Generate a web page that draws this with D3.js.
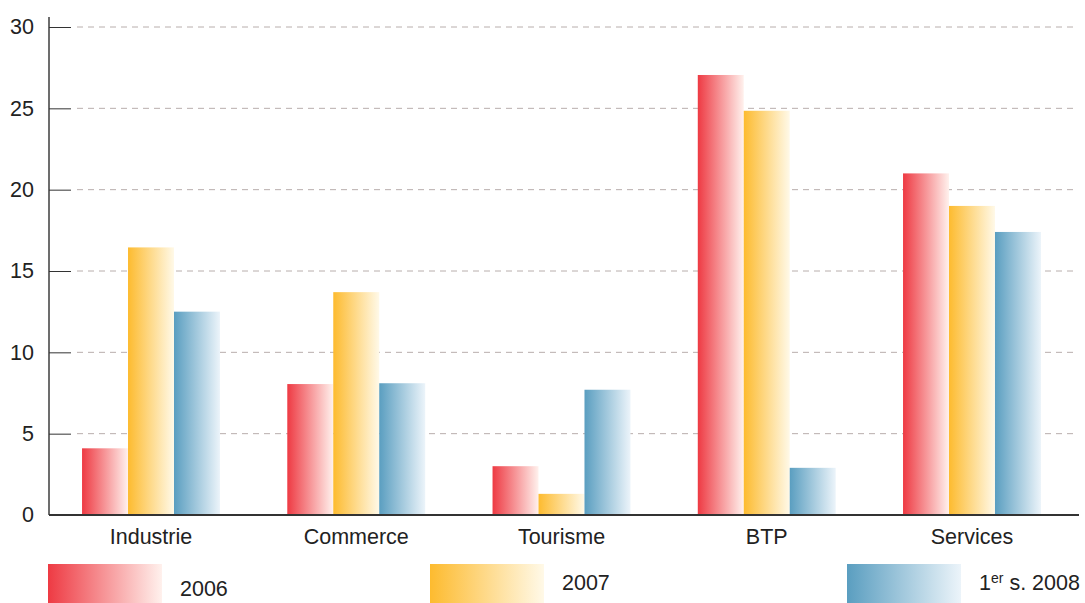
<!DOCTYPE html>
<html>
<head>
<meta charset="utf-8">
<script src="https://cdn.jsdelivr.net/npm/d3@7"></script>
<style>
  body { margin: 0; background: #fff; }
  svg { display: block; font-family: "Liberation Sans", Arial, sans-serif; }
</style>
</head>
<body>
<svg id="chart" width="1085" height="603"></svg>
<script>
// data
const categories = ["Industrie", "Commerce", "Tourisme", "BTP", "Services"];
const seriesNames = ["2006", "2007", "1er s. 2008"];
const values2006 = [4.1, 8.05, 3.0, 27.05, 21.0];
const values2007 = [16.45, 13.7, 1.3, 24.85, 19.0];
const values2008 = [12.5, 8.1, 7.7, 2.9, 17.4];
const yTicks = [0, 5, 10, 15, 20, 25, 30];

const seriesValues = [values2006, values2007, values2008];
const gradStops = [
  ["#ee3a43", "#fff1ed"],
  ["#fdbb2f", "#fff9e8"],
  ["#5a9ec0", "#ecf4fa"]
];

const svg = d3.select("#chart");
const margin = {left: 49, right: 11, top: 27, bottom: 88};
const W = 1085, H = 603;
const fontSize = 21.5;

const x = d3.scaleBand().domain(categories).range([margin.left, W - margin.right]).paddingInner(0.328).paddingOuter(0.161);
const xs = d3.scaleBand().domain(d3.range(seriesNames.length)).range([0, x.bandwidth()]);
const y = d3.scaleLinear().domain([0, 30]).range([H - margin.bottom, margin.top]);

// gradients
const defs = svg.append("defs");
gradStops.forEach((c, i) => {
  const g = defs.append("linearGradient").attr("id", "grad" + i)
    .attr("x1", "0%").attr("x2", "100%").attr("y1", "0%").attr("y2", "0%");
  g.append("stop").attr("offset", "0%").attr("stop-color", c[0]);
  g.append("stop").attr("offset", "100%").attr("stop-color", c[1]);
});

// grid lines
svg.append("g").selectAll("line").data(yTicks.filter(d => d > 0)).enter().append("line")
  .attr("x1", margin.left + 28).attr("x2", W - 7)
  .attr("y1", d => y(d)).attr("y2", d => y(d))
  .attr("stroke", "#b8aeac").attr("stroke-width", 1)
  .attr("stroke-dasharray", "6,5");

// y axis
const yAxis = d3.axisLeft(y).tickValues(yTicks).tickSize(-22).tickFormat(d3.format("d"));
const gy = svg.append("g").attr("transform", `translate(${margin.left},0)`).call(yAxis);
gy.select(".domain").attr("stroke", "#6d6d6d").attr("stroke-width", 2).attr("d", `M0,${y(30) - 10}V${y(0)}`);
gy.selectAll(".tick line").attr("stroke", "#333");
gy.selectAll(".tick text").attr("font-size", fontSize).attr("fill", "#222").attr("text-anchor", "end").attr("x", -15);

// bars
const groups = svg.append("g").selectAll("g").data(categories).enter().append("g")
  .attr("transform", d => `translate(${x(d)},0)`);
groups.selectAll("rect")
  .data((d, ci) => seriesValues.map((s, si) => ({si, v: s[ci]})))
  .enter().append("rect")
  .attr("x", d => xs(d.si))
  .attr("width", xs.bandwidth())
  .attr("y", d => y(d.v))
  .attr("height", d => y(0) - y(d.v))
  .attr("fill", d => `url(#grad${d.si})`);

// x axis
const xAxis = d3.axisBottom(x).tickSize(0).tickPadding(14);
const gx = svg.append("g").attr("transform", `translate(0,${y(0)})`).call(xAxis);
gx.select(".domain").attr("stroke", "#333").attr("stroke-width", 2).attr("d", `M${margin.left},0H${W - 6}`);
gx.selectAll(".tick text").attr("font-size", fontSize).attr("fill", "#222");

// legend
const legendX = [48, 430, 847];
const legendTextY = [596, 590, 590];
const legend = svg.append("g").selectAll("g").data(seriesNames).enter().append("g");
legend.append("rect")
  .attr("x", (d, i) => legendX[i]).attr("y", 564)
  .attr("width", 114).attr("height", 39)
  .attr("fill", (d, i) => `url(#grad${i})`);
const lt = legend.append("text")
  .attr("x", (d, i) => legendX[i] + 132)
  .attr("y", (d, i) => legendTextY[i])
  .attr("font-size", fontSize).attr("fill", "#222");
lt.each(function(d) {
  const t = d3.select(this);
  if (d.startsWith("1er")) {
    t.append("tspan").text("1");
    t.append("tspan").attr("dy", -7).attr("font-size", 14).text("er");
    t.append("tspan").attr("dy", 7).text(" s. 2008");
  } else {
    t.text(d);
  }
});
</script>
</body>
</html>
